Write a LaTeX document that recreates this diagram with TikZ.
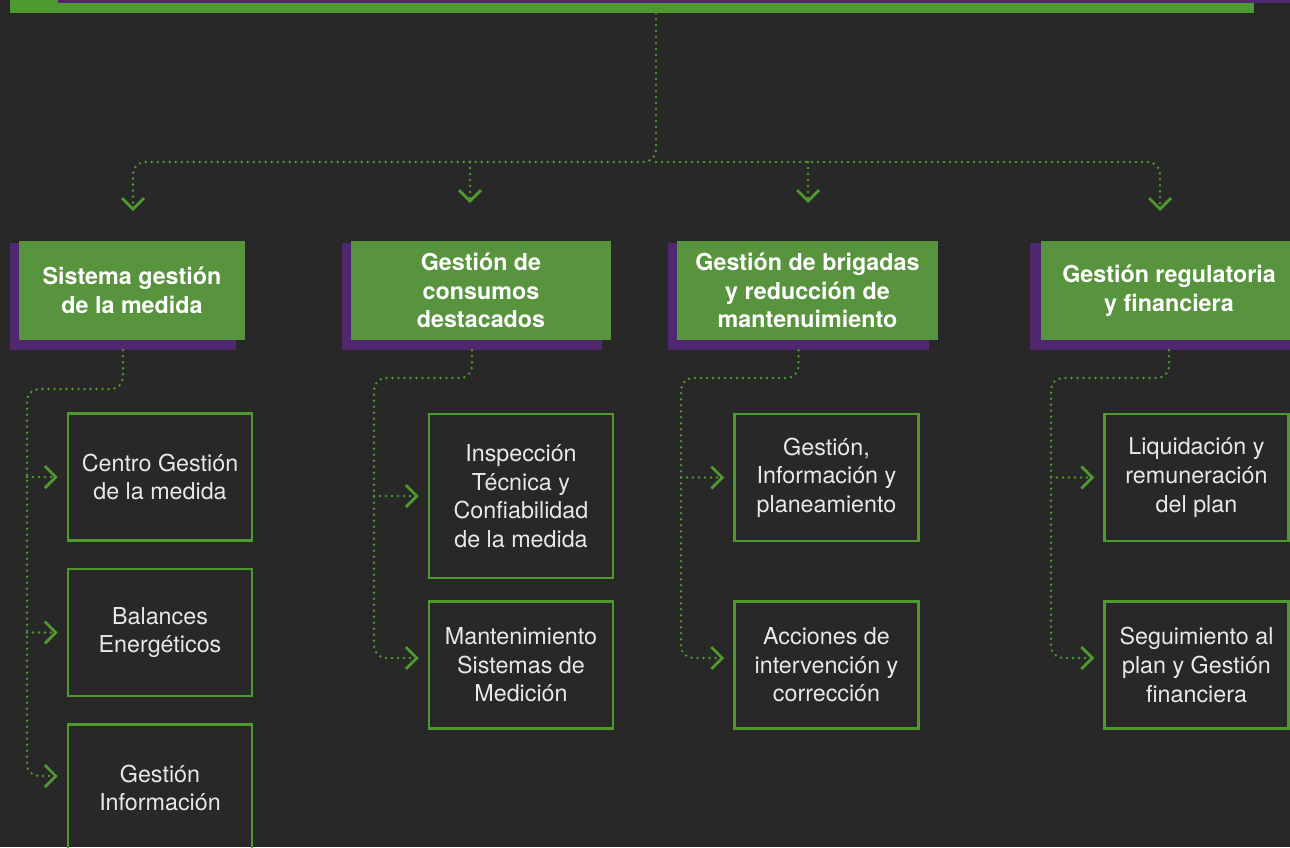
\documentclass[tikz,border=0pt]{standalone}
\usepackage{fontspec}
\setmainfont{TeX Gyre Heros}
\usetikzlibrary{arrows.meta,positioning,calc}
\definecolor{bgdark}{HTML}{282828}
\definecolor{leafgreen}{HTML}{4E9A2E}
\definecolor{hdrgreen}{HTML}{58943D}
\definecolor{plum}{HTML}{4F2870}
\definecolor{paleink}{HTML}{E8E8E8}

\begin{document}
\begin{tikzpicture}[
  x=1pt, y=-1pt,
  hdr/.style={
    fill=hdrgreen, text=white, align=center, inner sep=0pt,
    minimum height=99pt, font=\fontsize{23.3}{28.6}\selectfont\bfseries
  },
  backing/.style={fill=plum, inner sep=0pt, minimum height=107pt},
  leaf/.style={
    draw=leafgreen, line width=2.5pt, text=paleink, align=center, inner sep=0pt,
    minimum width=184pt, minimum height=127pt, font=\fontsize{23.3}{28.6}\selectfont
  },
  link/.style={
    draw=leafgreen, line width=2.7pt, line cap=round, dash pattern=on 0pt off 6pt,
    rounded corners=12pt,
    -{Straight Barb[length=11pt, width=22pt, line width=2.8pt]}
  },
  twig/.style={link, shorten >=9pt}
]

\fill[bgdark] (0,0) rectangle (1290,847);
\useasboundingbox (0,0) rectangle (1290,847);

% top box, cut by the page
\node[fill=leafgreen, minimum width=1244pt, minimum height=26pt, inner sep=0pt] (root) at (632,0) {};
\fill[plum] (58,0) rectangle (1290,3);
\coordinate (rootout) at (656,13);
\coordinate (bus) at (656,162);

% second level
\node[backing, minimum width=226pt] (s1) at (123,296.5) {};
\node[backing, minimum width=260pt] (s2) at (472,296.5) {};
\node[backing, minimum width=261pt] (s3) at (798.5,296.5) {};
\node[backing, minimum width=278pt] (s4) at (1169,296.5) {};

\node[hdr, minimum width=226pt] (h1) at ($(s1)+(9,-6)$) {Sistema gestión\\de la medida};
\node[hdr, minimum width=260pt] (h2) at ($(s2)+(9,-6)$) {Gestión de\\consumos\\destacados};
\node[hdr, minimum width=261pt] (h3) at ($(s3)+(9,-6)$) {Gestión de brigadas\\y reducción de\\mantenuimiento};
\node[hdr, minimum width=256pt, anchor=west] (h4) at ($(s4.west)+(11,-6)$) {Gestión regulatoria\\y financiera};

\coordinate (t1) at (133,211);
\coordinate (t2) at (470,203);
\coordinate (t3) at (808,203);
\coordinate (t4) at (1160,211);

\draw[link] (rootout) -- (bus) -| (t1);
\draw[link] (bus) -| (t4);
\draw[link] (t2 |- bus) -- (t2);
\draw[link] (t3 |- bus) -- (t3);

% third level
\node[leaf] (c11) at (160,477) {Centro Gestión\\de la medida};
\node[leaf] (c12) at (160,632.5) {Balances\\Energéticos};
\node[leaf] (c13) at (160,788) {Gestión\\Información};

\node[leaf, minimum height=164pt] (c21) at (521,496) {Inspección\\Técnica y\\Confiabilidad\\de la medida};
\node[leaf] (c22) at (521,665) {Mantenimiento\\Sistemas de\\Medición};

\node[leaf] (c31) at (826.5,477.5) {Gestión,\\Información y\\planeamiento};
\node[leaf] (c32) at (826.5,665) {Acciones de\\intervención y\\corrección};

\node[leaf] (c41) at (1196.5,477.5) {Liquidación y\\remuneración\\del plan};
\node[leaf] (c42) at (1196.5,665) {Seguimiento al\\plan y Gestión\\financiera};

\coordinate (k1) at (27,389);
\coordinate (k2) at (374,378);
\coordinate (k3) at (681,378);
\coordinate (k4) at (1051,378);

\draw[twig] (s1.south) |- (k1) |- ($(c13.west)+(0,-12)$);
\draw[twig] (k1 |- c11.west) -- (c11.west);
\draw[twig] (k1 |- c12.west) -- (c12.west);

\draw[twig] (s2.south) |- (k2) |- ($(c22.west)+(0,-7)$);
\draw[twig] (k2 |- c21.west) -- (c21.west);

\draw[twig] (s3.south) |- (k3) |- ($(c32.west)+(0,-7)$);
\draw[twig] (k3 |- c31.west) -- (c31.west);

\draw[twig] (s4.south) |- (k4) |- ($(c42.west)+(0,-7)$);
\draw[twig] (k4 |- c41.west) -- (c41.west);

\end{tikzpicture}
\end{document}
